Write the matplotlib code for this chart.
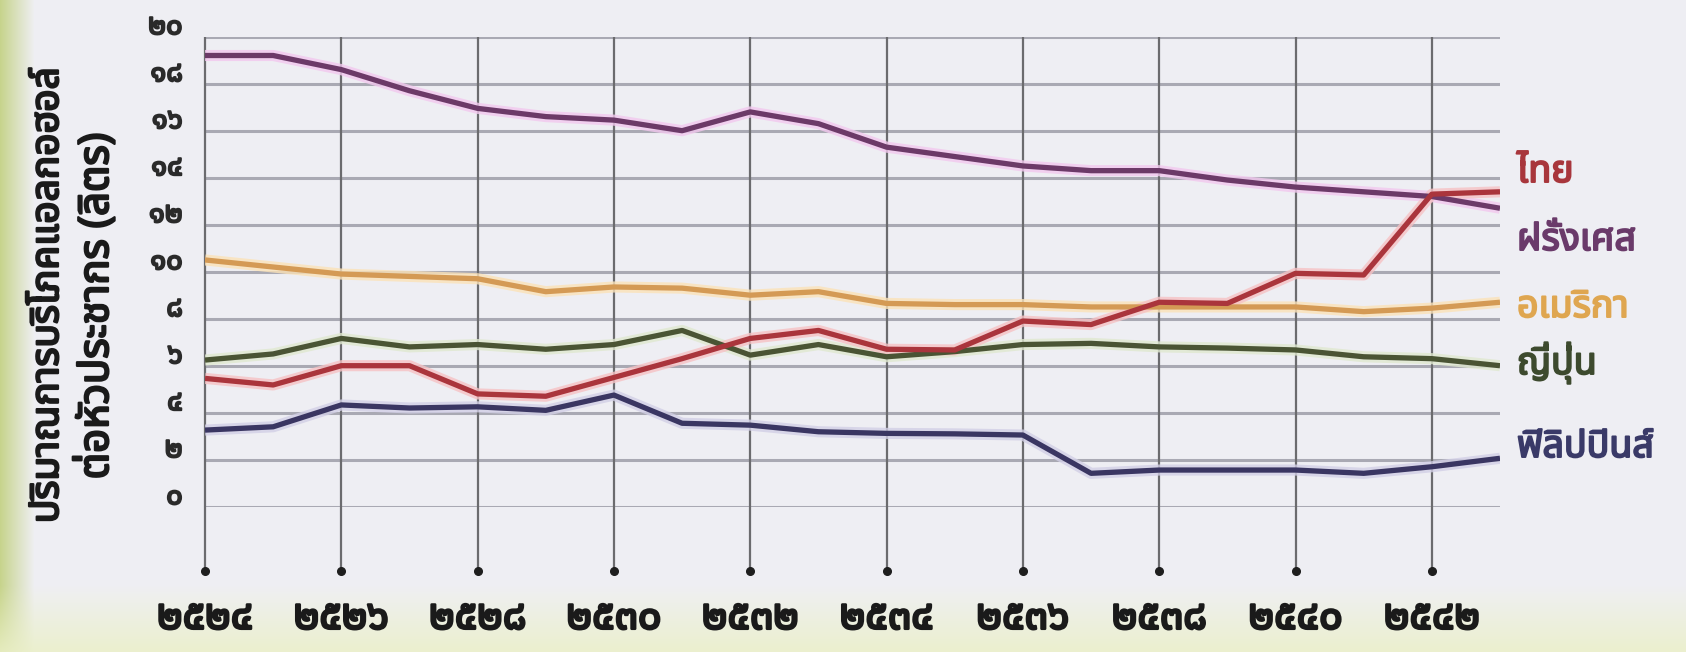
import numpy as np
import matplotlib
matplotlib.use('Agg')
import matplotlib.pyplot as plt
from matplotlib import font_manager as fm
from matplotlib.ft2font import FT2Font
import matplotlib.transforms as mtransforms
import matplotlib.patheffects as pe

# ---------------- data (Thai Buddhist years) ----------------
years = list(range(2524, 2544))
france = [19.2, 19.2, 18.6, 17.7, 16.95, 16.6, 16.45, 16.0, 16.8, 16.3,
          15.3, 14.9, 14.5, 14.3, 14.3, 13.9, 13.6, 13.4, 13.2, 12.7]
usa = [10.5, 10.2, 9.9, 9.8, 9.7, 9.15, 9.35, 9.3, 9.0, 9.15,
       8.65, 8.6, 8.6, 8.5, 8.5, 8.5, 8.5, 8.3, 8.45, 8.7]
japan = [6.24, 6.5, 7.16, 6.8, 6.9, 6.7, 6.9, 7.5, 6.45, 6.9,
         6.38, 6.6, 6.9, 6.95, 6.8, 6.75, 6.67, 6.38, 6.3, 6.0]
thailand = [5.46, 5.18, 6.0, 6.0, 4.8, 4.7, 5.5, 6.3, 7.16, 7.5,
            6.7, 6.67, 7.9, 7.75, 8.7, 8.65, 9.93, 9.86, 13.3, 13.4]
philippines = [3.26, 3.4, 4.33, 4.2, 4.25, 4.1, 4.75, 3.55, 3.47, 3.19,
               3.12, 3.1, 3.05, 1.42, 1.56, 1.56, 1.56, 1.42, 1.7, 2.06]

x_ticks = [2524, 2526, 2528, 2530, 2532, 2534, 2536, 2538, 2540, 2542]
x_tick_labels = ['๒๕๒๔', '๒๕๒๖', '๒๕๒๘', '๒๕๓๐', '๒๕๓๒',
                 '๒๕๓๔', '๒๕๓๖', '๒๕๓๘', '๒๕๔๐', '๒๕๔๒']
y_ticks = [0, 2, 4, 6, 8, 10, 12, 14, 16, 18, 20]
y_tick_labels = ['๐', '๒', '๔', '๖', '๘', '๑๐', '๑๒', '๑๔', '๑๖', '๑๘', '๒๐']

series_names = ['ไทย', 'ฝรั่งเศส', 'อเมริกา', 'ญี่ปุ่น', 'ฟิลิปปินส์']
ylabel_outer = 'ปริมาณการบริโภคแอลกอฮอล์'
ylabel_inner = 'ต่อหัวประชากร (ลิตร)'

# ---------------- font with Thai coverage ----------------
def find_thai_family():
    found = []
    for f in fm.fontManager.ttflist:
        try:
            cmap = FT2Font(f.fname).get_charmap()
        except Exception:
            continue
        if 0x0E44 in cmap and 0x0E52 in cmap and 0x0E1D in cmap:
            found.append(f.name)
    pref = ['Noto Sans Thai', 'Noto Sans Thai UI', 'Noto Sans Thai Looped',
            'Tlwg Typist', 'Loma', 'Garuda', 'Norasi', 'Sarabun', 'Kinnari']
    for p in pref:
        if p in found:
            return p
    return found[0] if found else None

thai = find_thai_family()
fam = [thai, 'DejaVu Sans'] if thai else ['DejaVu Sans']
plt.rcParams['font.family'] = fam


def heavy(color, w=1.6):
    return [pe.withStroke(linewidth=w, foreground=color)]


W, H = 1686, 652
fig = plt.figure(figsize=(W / 100, H / 100), dpi=100)

# ---------------- background ----------------
bg = fig.add_axes([0, 0, 1, 1], zorder=-10)
yy, xx = np.mgrid[0:H, 0:W]
base = np.array([0.937, 0.937, 0.953])
green = np.array([0.78, 0.83, 0.55])
yellow = np.array([0.92, 0.94, 0.78])
img = np.ones((H, W, 3)) * base
wl = np.clip(1 - xx / 34.0, 0, 1)[..., None]
img = img * (1 - wl) + green * wl
wb = np.clip((yy - 585) / 67.0, 0, 1)[..., None] * 0.85
img = img * (1 - wb) + yellow * wb
bg.imshow(img, aspect='auto', extent=[0, 1, 0, 1])
bg.set_axis_off()

# ---------------- main axes ----------------
left, right = 205 / W, 1500 / W
top_px, bot_px = 36.7, 506.7
ax = fig.add_axes([left, (H - bot_px) / H, right - left, (bot_px - top_px) / H])
ax.set_xlim(2524, 2543)
ax.set_ylim(0, 20)
ax.patch.set_alpha(0)
for s in ax.spines.values():
    s.set_visible(False)

# horizontal grid
for yv in y_ticks:
    ax.axhline(yv, color='#a9a9b3', lw=2.2, zorder=1)
# vertical year lines with dot ends
ax.vlines(x_ticks, -2.75, 20, colors='#6b6b6e', lw=1.6, zorder=2, clip_on=False)
ax.plot(x_ticks, [-2.75] * len(x_ticks), 'o', color='#1e1e1e', ms=5.5,
        clip_on=False, zorder=3)

colors = {'france': '#6c3a68', 'usa': '#d49a55', 'japan': '#4a5434',
          'thailand': '#aa353c', 'philippines': '#3a3662'}
glows = {'france': '#f2c8ee', 'usa': '#fbe2b8', 'japan': '#dfe8cf',
         'thailand': '#f6c2c4', 'philippines': '#d2cfe6'}
for key, vals in [('usa', usa), ('france', france), ('japan', japan),
                  ('thailand', thailand), ('philippines', philippines)]:
    ax.plot(years, vals, color=glows[key], lw=8, solid_capstyle='butt',
            solid_joinstyle='round', zorder=4, alpha=0.8)
    ax.plot(years, vals, color=colors[key], lw=3.8, solid_capstyle='butt',
            solid_joinstyle='round', zorder=5)

# tick labels
ax.set_xticks(x_ticks)
ax.set_xticklabels(x_tick_labels, fontsize=30, color='#1a1a1a')
ax.tick_params(axis='x', length=0, pad=80)
for lab in ax.get_xticklabels():
    lab.set_va('center')
    lab.set_path_effects(heavy('#1a1a1a', 1.8))
ax.set_yticks(y_ticks)
ax.set_yticklabels(y_tick_labels, fontsize=21, color='#2a2a2a')
ax.tick_params(axis='y', length=0, pad=16)
off = mtransforms.ScaledTranslation(0, 10 / 100, fig.dpi_scale_trans)
for lab in ax.get_yticklabels():
    lab.set_va('center')
    lab.set_transform(lab.get_transform() + off)
    lab.set_path_effects(heavy('#2a2a2a', 1.4))

# legend labels at right
label_info = [(series_names[0], 172, '#a8363c'),
              (series_names[1], 240, '#6a3a6a'),
              (series_names[2], 307, '#dfa650'),
              (series_names[3], 363, '#3d4a2e'),
              (series_names[4], 447, '#3a3a68')]
for txt, ypx, c in label_info:
    fig.text(1517 / W, 1 - ypx / H, txt, fontsize=27, color=c,
             ha='left', va='center', path_effects=heavy(c, 1.4))

# y-axis label (two rotated lines)
fig.text(48 / W, 1 - 295 / H, ylabel_outer, rotation=90, fontsize=28,
         color='#1a1a1a', ha='center', va='center',
         path_effects=heavy('#1a1a1a', 1.6))
fig.text(97 / W, 1 - 306 / H, ylabel_inner, rotation=90, fontsize=30,
         color='#1a1a1a', ha='center', va='center',
         path_effects=heavy('#1a1a1a', 1.6))

fig.savefig('out.png', dpi=100)
